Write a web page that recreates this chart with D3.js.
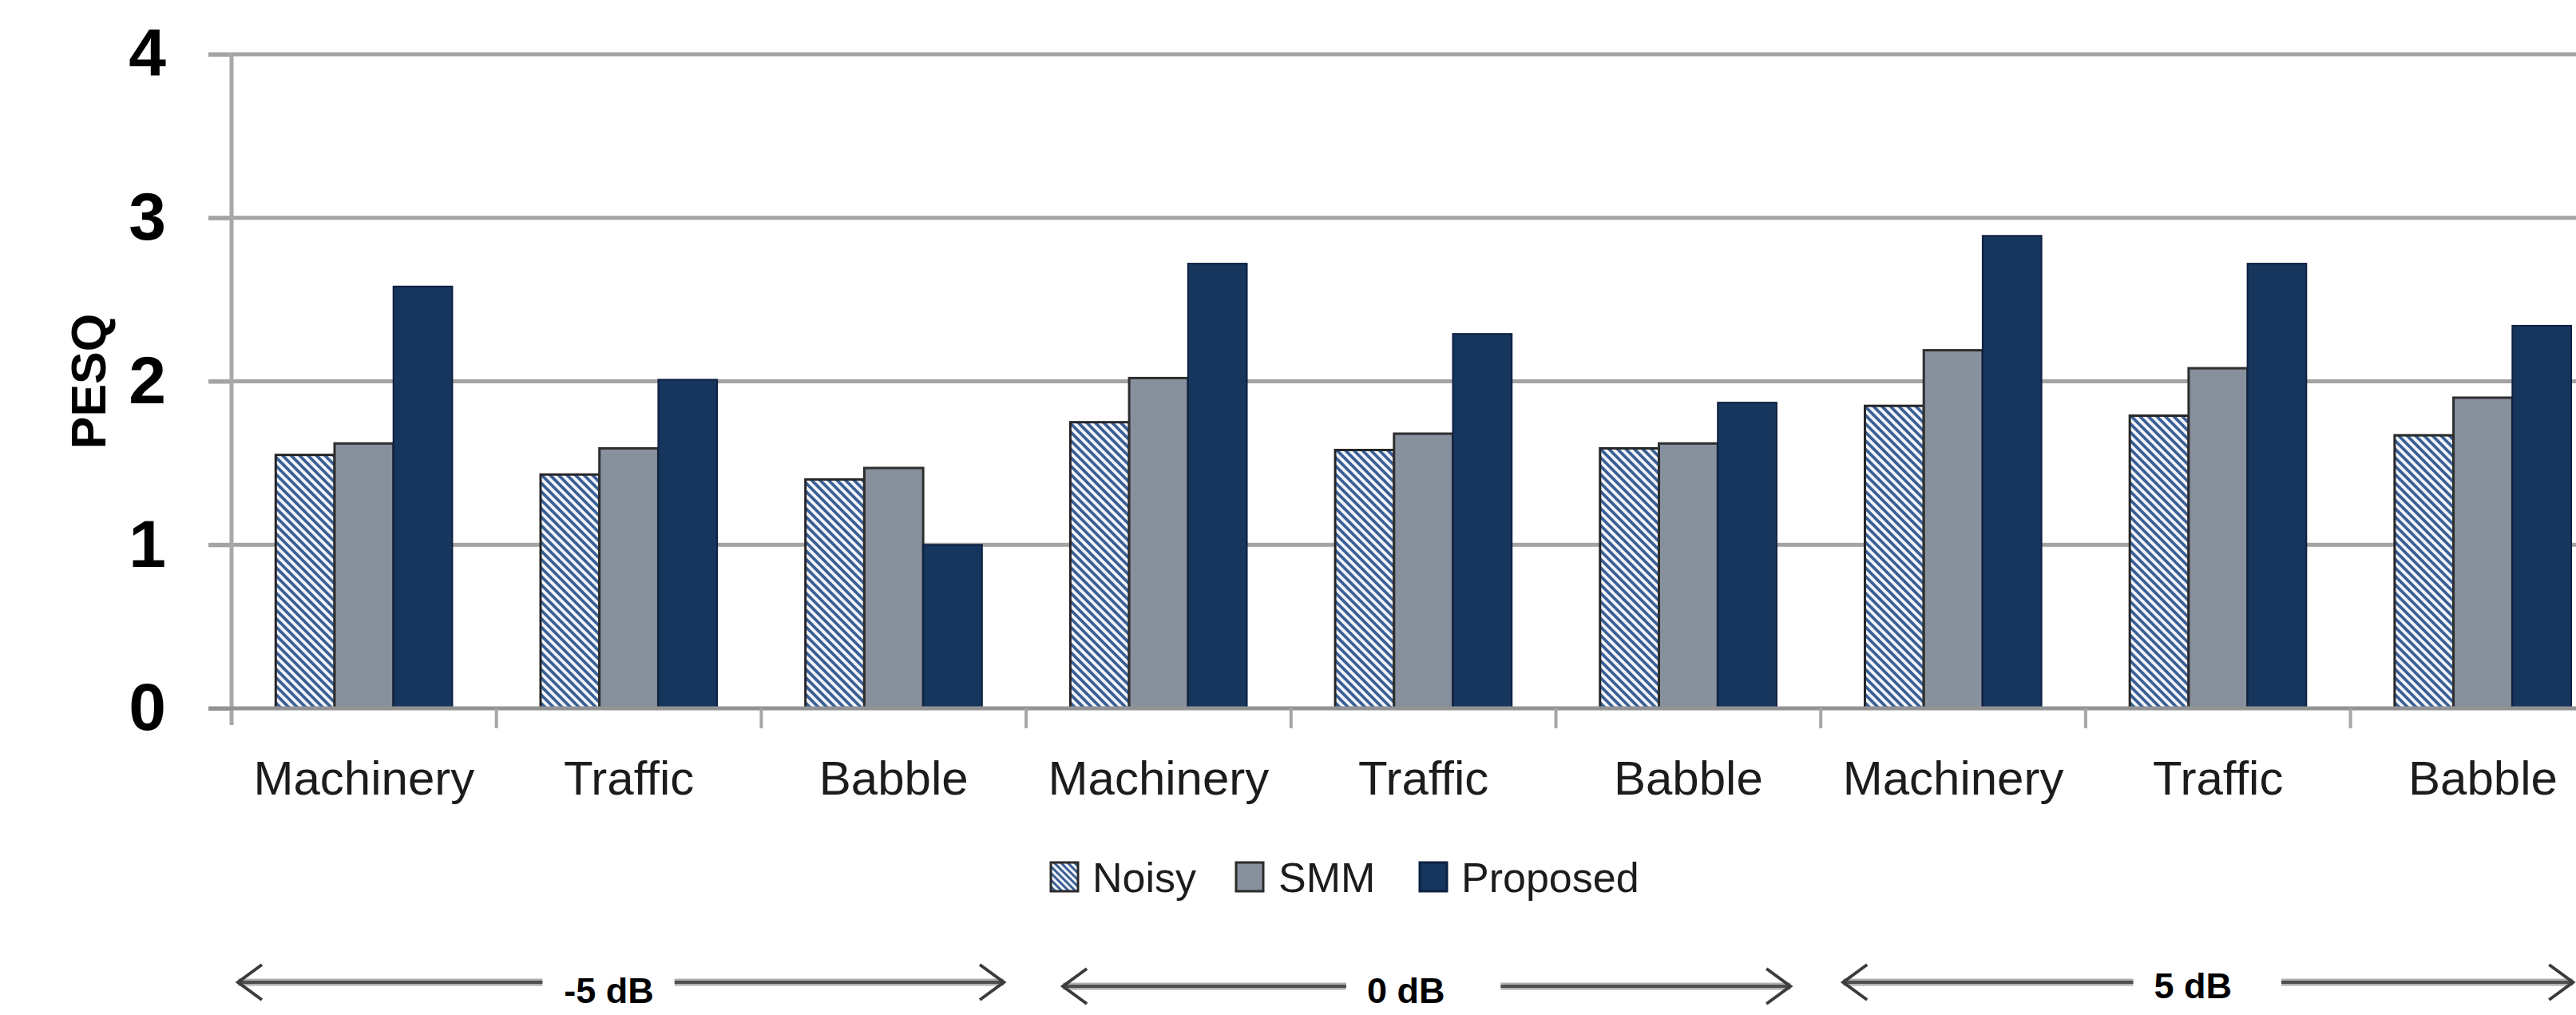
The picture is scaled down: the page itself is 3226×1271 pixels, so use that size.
<!DOCTYPE html>
<html>
<head>
<meta charset="utf-8">
<script src="https://cdn.jsdelivr.net/npm/d3@7"></script>
<style>
  html, body { margin: 0; padding: 0; background: #ffffff; }
  svg { display: block; }
</style>
</head>
<body>
<svg id="chart" width="3226" height="1271"></svg>
<script>
// PESQ scores for three noise types at three input SNR levels
const categories = ["Machinery", "Traffic", "Babble",
                    "Machinery", "Traffic", "Babble",
                    "Machinery", "Traffic", "Babble"];
const snrLevels = ["-5 dB", "0 dB", "5 dB"];
const seriesNames = ["Noisy", "SMM", "Proposed"];
const noisy    = [1.55, 1.43, 1.40, 1.75, 1.58, 1.59, 1.85, 1.79, 1.67];
const smm      = [1.62, 1.59, 1.47, 2.02, 1.68, 1.62, 2.19, 2.08, 1.90];
const proposed = [2.58, 2.01, 1.00, 2.72, 2.29, 1.87, 2.89, 2.72, 2.34];
const yTickValues = [0, 1, 2, 3, 4];

const seriesValues = [noisy, smm, proposed];

const W = 3226, H = 1271;
const plotLeft = 290, plotTop = 68, plotBottom = 887;
const catWidth = 331.7;
const svg = d3.select("#chart");

// diagonal hatch used by the first series
const defs = svg.append("defs");
function hatch(id, period) {
  const p = defs.append("pattern")
    .attr("id", id)
    .attr("patternUnits", "userSpaceOnUse")
    .attr("width", period).attr("height", period)
    .attr("patternTransform", "rotate(-45)");
  p.append("rect").attr("width", period).attr("height", period).attr("fill", "#f2f5fa");
  p.append("rect").attr("width", period * 0.5).attr("height", period).attr("fill", "#3a5f96");
}
hatch("hatchBar", 7.5);
hatch("hatchKey", 6);

const fills = ["url(#hatchBar)", "#87919e", "#17365d"];
const strokes = ["#262626", "#2e2e2e", "#0d2142"];
const strokeW = [3, 3, 2];

// scales
const x = d3.scaleBand()
  .domain(d3.range(categories.length))
  .range([plotLeft, plotLeft + catWidth * categories.length])
  .paddingInner(0).paddingOuter(0);

const xSub = d3.scaleBand()
  .domain(seriesNames)
  .range([0, x.bandwidth()])
  .paddingInner(0).paddingOuter(0.75);

const y = d3.scaleLinear().domain([0, 4]).range([plotBottom, plotTop]);

// horizontal gridlines
svg.append("g").selectAll("line")
  .data(yTickValues.filter(v => v > 0))
  .join("line")
  .attr("x1", plotLeft - 29).attr("x2", W)
  .attr("y1", d => y(d)).attr("y2", d => y(d))
  .attr("stroke", "#a3a3a3").attr("stroke-width", 5);

// y axis
const yAxis = svg.append("g")
  .attr("transform", `translate(${plotLeft},0)`)
  .call(d3.axisLeft(y).tickValues(yTickValues).tickFormat(d3.format("d"))
    .tickSize(29).tickPadding(53));
yAxis.select(".domain").remove();
yAxis.selectAll(".tick line").attr("stroke", "#a3a3a3").attr("stroke-width", 5);
yAxis.selectAll(".tick text")
  .attr("font-family", "'Liberation Sans', Arial, sans-serif")
  .attr("font-weight", "bold")
  .attr("font-size", 84)
  .attr("fill", "#000");

svg.append("line")
  .attr("x1", plotLeft).attr("x2", plotLeft)
  .attr("y1", plotTop - 2).attr("y2", plotBottom + 21)
  .attr("stroke", "#a8a8a8").attr("stroke-width", 5);

// axis title
svg.append("text")
  .attr("transform", `translate(132,${(plotTop + plotBottom) / 2}) rotate(-90)`)
  .attr("text-anchor", "middle")
  .attr("font-family", "'Liberation Sans', Arial, sans-serif")
  .attr("font-weight", "bold")
  .attr("font-size", 61)
  .attr("fill", "#000")
  .text("PESQ");

// bars
const groups = svg.append("g").selectAll("g")
  .data(categories.map((c, i) => i))
  .join("g")
  .attr("transform", i => `translate(${x(i)},0)`);

groups.selectAll("rect")
  .data(i => seriesNames.map((s, k) => ({ s, k, v: seriesValues[k][i] })))
  .join("rect")
  .attr("x", d => xSub(d.s))
  .attr("width", xSub.bandwidth())
  .attr("y", d => y(d.v))
  .attr("height", d => y(0) - y(d.v))
  .attr("fill", d => fills[d.k])
  .attr("stroke", d => strokes[d.k])
  .attr("stroke-width", d => strokeW[d.k]);

// x axis baseline and category separators
svg.append("line")
  .attr("x1", plotLeft - 29).attr("x2", W)
  .attr("y1", plotBottom).attr("y2", plotBottom)
  .attr("stroke", "#939393").attr("stroke-width", 5);

svg.append("g").selectAll("line")
  .data(d3.range(1, categories.length + 1))
  .join("line")
  .attr("x1", i => x(i - 1) + x.bandwidth()).attr("x2", i => x(i - 1) + x.bandwidth())
  .attr("y1", plotBottom).attr("y2", plotBottom + 25)
  .attr("stroke", "#a6a6a6").attr("stroke-width", 4);

// category labels
const xAxis = svg.append("g")
  .attr("transform", `translate(0,${plotBottom})`)
  .call(d3.axisBottom(x).tickFormat(i => categories[i]).tickSize(0));
xAxis.select(".domain").remove();
xAxis.selectAll(".tick text")
  .attr("y", 108).attr("dy", null)
  .attr("font-family", "'Liberation Sans', Arial, sans-serif")
  .attr("font-size", 60)
  .attr("fill", "#1c1c1c");

// legend
const legendX = [1316, 1548, 1778];
const legendTextX = [1368, 1601, 1830];
const legend = svg.append("g");
seriesNames.forEach((name, k) => {
  legend.append("rect")
    .attr("x", legendX[k]).attr("y", 1080)
    .attr("width", 34).attr("height", 36)
    .attr("fill", k === 0 ? "url(#hatchKey)" : fills[k])
    .attr("stroke", k === 2 ? "#0d2142" : "#2b2b2b")
    .attr("stroke-width", 3);
  legend.append("text")
    .attr("x", legendTextX[k]).attr("y", 1117)
    .attr("font-family", "'Liberation Sans', Arial, sans-serif")
    .attr("font-size", 52)
    .attr("fill", "#1c1c1c")
    .text(name);
});

// SNR brackets below the categories
const arrowY = [1230, 1235, 1230];
const labelY = [1256, 1256, 1250];
const leftInset = [8, 46, 28];
const rightInset = [28, 38, 53];
const textShift = [-15, -26, -19];
const gapLeft = [27, 26, 26];
const gapRight = [26, 70, 62];

const brackets = svg.append("g");
snrLevels.forEach((lvl, g) => {
  const x0 = x(g * 3) + leftInset[g];
  const x1 = x(g * 3 + 2) + x.bandwidth() - rightInset[g];
  const cy = arrowY[g];
  const tc = (x0 + x1) / 2 + textShift[g];
  const label = brackets.append("text")
    .attr("x", tc).attr("y", labelY[g])
    .attr("text-anchor", "middle")
    .attr("font-family", "'Liberation Sans', Arial, sans-serif")
    .attr("font-weight", "bold")
    .attr("font-size", 45)
    .attr("fill", "#000")
    .text(lvl);
  const tw = label.node().getComputedTextLength();
  const segs = [[x0, tc - tw / 2 - gapLeft[g]], [tc + tw / 2 + gapRight[g], x1]];
  segs.forEach(([a, b]) => {
    brackets.append("line")
      .attr("x1", a).attr("x2", b).attr("y1", cy).attr("y2", cy)
      .attr("stroke", "#b0b0b0").attr("stroke-width", 9);
    brackets.append("line")
      .attr("x1", a).attr("x2", b).attr("y1", cy).attr("y2", cy)
      .attr("stroke", "#4f4f4f").attr("stroke-width", 4);
  });
  brackets.append("path")
    .attr("d", `M${x0 + 30},${cy - 22}L${x0},${cy}L${x0 + 30},${cy + 22}`)
    .attr("fill", "none").attr("stroke", "#3c3c3c").attr("stroke-width", 4);
  brackets.append("path")
    .attr("d", `M${x1 - 30},${cy - 22}L${x1},${cy}L${x1 - 30},${cy + 22}`)
    .attr("fill", "none").attr("stroke", "#3c3c3c").attr("stroke-width", 4);
});
</script>
</body>
</html>
